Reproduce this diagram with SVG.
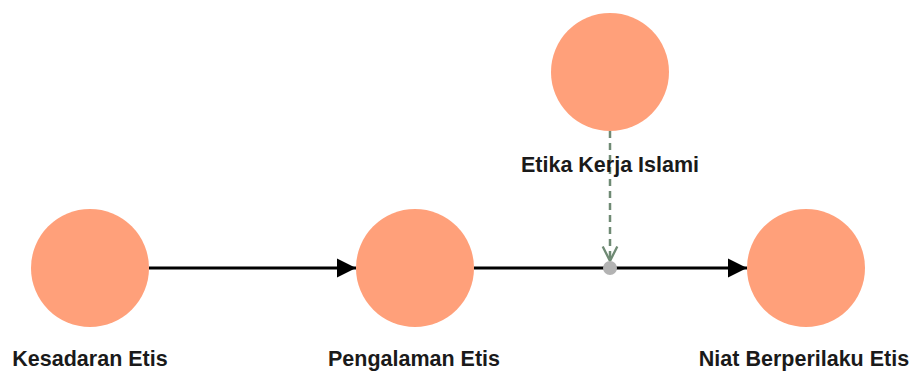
<svg xmlns="http://www.w3.org/2000/svg" width="913" height="372" viewBox="0 0 913 372">
<style>
.node{fill:#ffa07a;stroke:none}
.lbl{font-family:"Liberation Sans",Arial,sans-serif;font-weight:bold;font-size:21.5px;fill:#1a1a1a;text-anchor:middle}
.main{stroke:#000;stroke-width:3;fill:none}
.dash{stroke:#6f8a74;stroke-width:2.5;stroke-dasharray:7,5;fill:none}
</style>
<defs>
<marker id="arr" viewBox="0 0 10 10" refX="10" refY="5" markerWidth="6.5" markerHeight="6.5" markerUnits="strokeWidth" orient="auto">
<path d="M0,0 L10,5 L0,10 Z" fill="#000"/>
</marker>
<marker id="open" viewBox="0 0 12 12" refX="11" refY="6" markerWidth="7" markerHeight="7" markerUnits="strokeWidth" orient="auto">
<path d="M1,1 L11,6 L1,11" fill="none" stroke="#6f8a74" stroke-width="1.6"/>
</marker>
</defs>
<g id="connectors">
<line class="main" x1="149" y1="268" x2="356" y2="268" marker-end="url(#arr)"/>
<line class="main" x1="474" y1="268" x2="747" y2="268" marker-end="url(#arr)"/>
<line class="dash" x1="610" y1="131" x2="610" y2="261" marker-end="url(#open)"/>
<circle cx="610" cy="268" r="7" fill="#b3b3b3"/>
</g>
<g id="node-kesadaran">
<circle class="node" cx="90" cy="268" r="59"/>
<text class="lbl" x="90" y="366">Kesadaran Etis</text>
</g>
<g id="node-pengalaman">
<circle class="node" cx="415" cy="268" r="59"/>
<text class="lbl" x="414" y="366">Pengalaman Etis</text>
</g>
<g id="node-niat">
<circle class="node" cx="806" cy="268" r="59"/>
<text class="lbl" x="804" y="366">Niat Berperilaku Etis</text>
</g>
<g id="node-etika">
<circle class="node" cx="610" cy="72" r="59"/>
<text class="lbl" x="610" y="172">Etika Kerja Islami</text>
</g>
</svg>
